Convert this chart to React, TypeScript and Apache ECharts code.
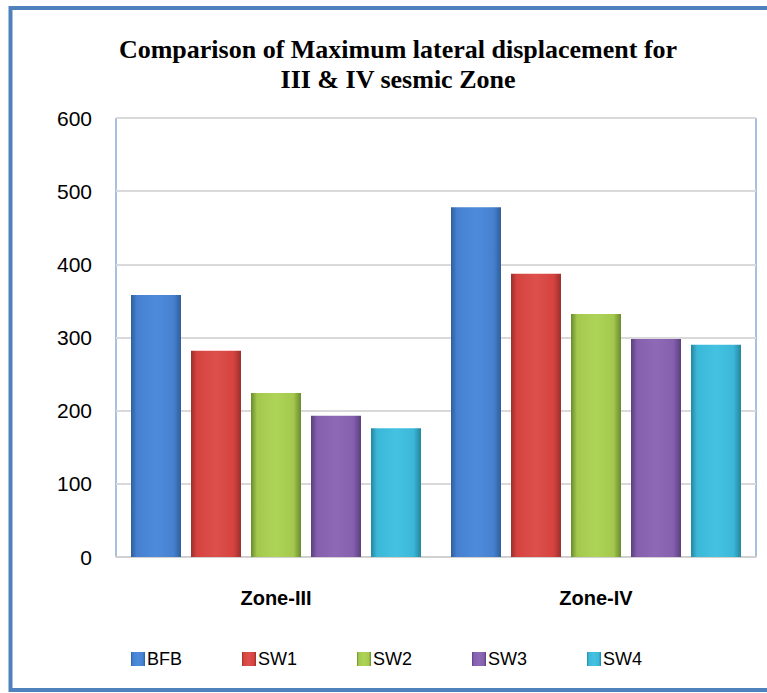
import React, { useEffect, useRef } from "react";
import * as echarts from "echarts";

const categories = ["Zone-III", "Zone-IV"];
const seriesNames = ["BFB", "SW1", "SW2", "SW3", "SW4"];
const bfb = [358, 478];
const sw1 = [282, 387];
const sw2 = [224, 332];
const sw3 = [193, 298];
const sw4 = [176, 290];
const seriesValues = [bfb, sw1, sw2, sw3, sw4];
const yTicks = [0, 100, 200, 300, 400, 500, 600];

const palette = [
  { dark: "#2F5F99", base: "#4581D0", light: "#4E8BDA" },
  { dark: "#9A2F2C", base: "#D6433F", light: "#DD504C" },
  { dark: "#6A8A2E", base: "#A3C84D", light: "#AED457" },
  { dark: "#5A3F7E", base: "#8460AD", light: "#8D69B6" },
  { dark: "#25869E", base: "#3BB7D8", light: "#45C2E2" },
];

function grad(c: { dark: string; base: string; light: string }) {
  return new echarts.graphic.LinearGradient(0, 0, 1, 0, [
    { offset: 0, color: c.dark },
    { offset: 0.12, color: c.base },
    { offset: 0.5, color: c.light },
    { offset: 0.85, color: c.base },
    { offset: 1, color: c.dark },
  ]);
}

export default function App() {
  const ref = useRef<HTMLDivElement>(null);
  useEffect(() => {
    if (!ref.current) return;
    const chart = echarts.init(ref.current, undefined, { renderer: "svg" });
    chart.setOption({
      animation: false,
      backgroundColor: "#ffffff",
      title: {
        text: "Comparison of Maximum lateral displacement for\nIII & IV sesmic Zone",
        left: 393,
        textAlign: "center",
        top: 29,
        textStyle: {
          fontFamily: "Liberation Serif",
          fontWeight: "bold",
          fontSize: 26,
          lineHeight: 30,
          color: "#000",
        },
      },
      graphic: [
        {
          type: "rect",
          shape: { x: 10.5, y: 8, width: 790, height: 682 },
          style: { fill: "none", stroke: "#4F81BD", lineWidth: 4 },
          z: 100,
        },
      ],
      legend: {
        data: seriesNames,
        left: 126,
        top: 645,
        itemWidth: 14,
        itemHeight: 14,
        itemGap: 60,
        icon: "rect",
        textStyle: { fontFamily: "Liberation Sans", fontSize: 18, color: "#000", padding: [0, 0, 0, -3] },
      },
      grid: {
        left: 116,
        top: 118,
        right: 11,
        bottom: 136,
        show: true,
        borderColor: "#4F81BD",
        borderWidth: 1,
        backgroundColor: "transparent",
      },
      xAxis: {
        type: "category",
        data: categories,
        axisTick: { show: false },
        axisLine: { lineStyle: { color: "#D0D0D0", width: 2 } },
        axisLabel: {
          margin: 31,
          fontFamily: "Liberation Sans",
          fontWeight: "bold",
          fontSize: 20,
          color: "#000",
        },
      },
      yAxis: {
        type: "value",
        min: yTicks[0],
        max: yTicks[yTicks.length - 1],
        interval: 100,
        axisLine: { show: false },
        axisTick: { show: false },
        splitLine: { lineStyle: { color: "#D9D9D9", width: 2 } },
        axisLabel: {
          margin: 24,
          fontFamily: "Liberation Sans",
          fontSize: 21,
          color: "#000",
        },
      },
      series: seriesNames.map((name, i) => ({
        name,
        type: "bar",
        data: seriesValues[i],
        barWidth: 50,
        barGap: "20%",
        itemStyle: {
          color: grad(palette[i]),
          borderWidth: 0,
        },
      })),
    });
    return () => chart.dispose();
  }, []);
  return (
    <div
      ref={ref}
      style={{ position: "absolute", left: 0, top: 0, width: 767, height: 693 }}
    />
  );
}
